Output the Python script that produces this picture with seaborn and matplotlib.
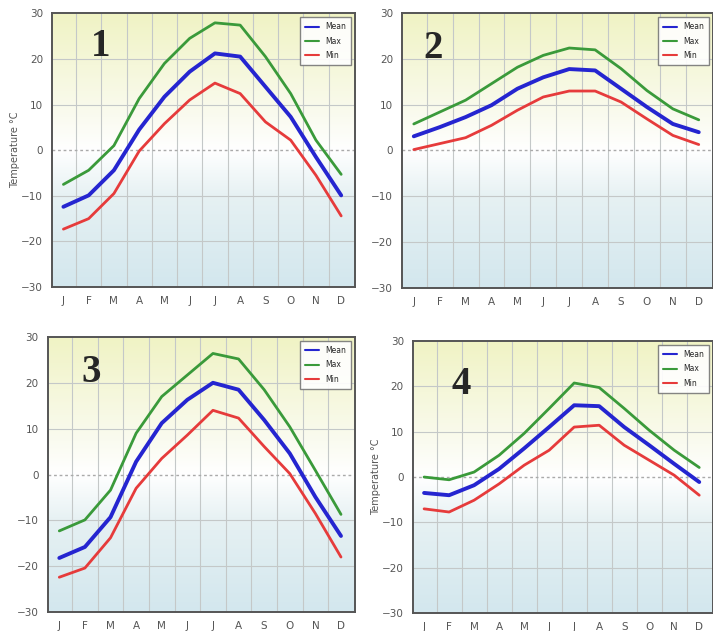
import numpy as np
import pandas as pd
import matplotlib
matplotlib.use("Agg")
import matplotlib.pyplot as plt
from matplotlib.colors import LinearSegmentedColormap
import seaborn as sns

# month labels
months = ["J", "F", "M", "A", "M", "J", "J", "A", "S", "O", "N", "D"]

# panel 1
mean_1 = [-12.4, -9.9, -4.4, 4.5, 11.7, 17.2, 21.2, 20.5, 13.9, 7.3, -1.5, -9.9]
max_1 = [-7.5, -4.4, 1.0, 11.3, 19.0, 24.5, 27.9, 27.4, 20.5, 12.4, 2.2, -5.3]
min_1 = [-17.3, -15.0, -9.5, -0.2, 5.8, 11.0, 14.7, 12.4, 6.2, 2.2, -5.5, -14.4]

# panel 2
mean_2 = [3.1, 5.1, 7.3, 9.9, 13.5, 16.0, 17.8, 17.5, 13.5, 9.5, 5.8, 4.0]
max_2 = [5.8, 8.4, 11.0, 14.6, 18.2, 20.8, 22.4, 22.0, 17.9, 13.1, 9.1, 6.7]
min_2 = [0.2, 1.5, 2.8, 5.5, 8.8, 11.7, 13.0, 13.0, 10.6, 6.9, 3.3, 1.3]

# panel 3
mean_3 = [-18.2, -15.8, -9.3, 2.8, 11.2, 16.3, 20.0, 18.5, 11.9, 4.6, -4.9, -13.4]
max_3 = [-12.3, -9.9, -3.4, 9.0, 17.0, 21.7, 26.4, 25.2, 18.5, 10.4, 0.9, -8.7]
min_3 = [-22.4, -20.4, -13.8, -3.0, 3.5, 8.6, 14.0, 12.3, 6.1, 0.2, -8.5, -18.0]

# panel 4
mean_4 = [-3.5, -4.0, -1.8, 1.8, 6.3, 11.0, 15.8, 15.6, 11.0, 7.0, 2.9, -1.1]
max_4 = [0.0, -0.6, 1.1, 4.8, 9.6, 15.1, 20.7, 19.7, 15.1, 10.3, 5.9, 2.1]
min_4 = [-7.0, -7.7, -5.1, -1.5, 2.6, 5.9, 11.0, 11.4, 7.0, 3.7, 0.4, -4.0]

panels = [
    ("1", mean_1, max_1, min_1, [0.073, 0.545, 0.425, 0.434], True),
    ("2", mean_2, max_2, min_2, [0.564, 0.544, 0.436, 0.435], False),
    ("3", mean_3, max_3, min_3, [0.067, 0.030, 0.431, 0.436], False),
    ("4", mean_4, max_4, min_4, [0.579, 0.028, 0.421, 0.432], True),
]
label_pos = {"1": (0.16, 0.88), "2": (0.1, 0.87), "3": (0.14, 0.87), "4": (0.16, 0.84)}

palette = {"Mean": "#2525d0", "Max": "#3a9a3a", "Min": "#e63b3b"}
widths = {"Mean": 2.8, "Max": 2.0, "Min": 2.0}

bg = LinearSegmentedColormap.from_list(
    "bg", [(0.0, "#d3e7ee"), (0.33, "#e6f1f3"), (0.5, "#ffffff"),
           (0.62, "#fafbf0"), (1.0, "#f0f3c4")])

sns.set_style("white")
fig = plt.figure(figsize=(7.13, 6.31), dpi=100)

for name, mean, mx, mn, rect, ylab in panels:
    ax = fig.add_axes(rect)
    df = pd.DataFrame({
        "month": list(range(12)) * 3,
        "temp": mean + mx + mn,
        "series": ["Mean"] * 12 + ["Max"] * 12 + ["Min"] * 12,
    })
    ax.imshow(np.linspace(0, 1, 256).reshape(-1, 1), cmap=bg, origin="lower",
              extent=[-0.45, 11.55, -30, 30], aspect="auto", zorder=0)
    sns.lineplot(data=df, x="month", y="temp", hue="series", palette=palette,
                 ax=ax, zorder=3)
    for line, s in zip(ax.get_lines(), ["Mean", "Max", "Min"]):
        line.set_linewidth(widths[s])
        line.set_solid_joinstyle("round")
    ax.set_xlim(-0.45, 11.55)
    ax.set_ylim(-30, 30)
    ax.set_xticks(range(12))
    ax.set_xticklabels(months)
    ax.set_xticks(np.arange(0.5, 11.5, 1), minor=True)
    ax.set_yticks(range(-30, 31, 10))
    ax.set_yticks(range(-30, 31, 2), minor=True)
    ax.grid(False)
    ax.grid(which="minor", axis="x", color="#c4c8c8", lw=0.8, zorder=1)
    for yv in [-20, -10, 10, 20]:
        ax.axhline(yv, color="#c4c8c8", lw=0.8, zorder=1)
    ax.axhline(0, color="#aaaaaa", lw=1.0, ls=(0, (2, 2)), zorder=1)
    ax.tick_params(axis="both", which="major", labelsize=7.5, labelcolor="#555555",
                   length=3, color="#555555")
    ax.tick_params(axis="y", which="minor", length=1.5, color="#555555")
    ax.tick_params(axis="x", which="minor", length=0)
    for sp in ax.spines.values():
        sp.set_color("#555555")
        sp.set_linewidth(1.4)
    ax.set_xlabel("")
    if ylab:
        ax.set_ylabel("Temperature °C", fontsize=7, color="#555555", labelpad=1)
    else:
        ax.set_ylabel("")
    ax.legend(loc="upper right", fontsize=5.5, frameon=True, fancybox=False,
              edgecolor="#777777", handlelength=1.8, borderpad=0.7,
              labelspacing=0.7, framealpha=0.9)
    lx, ly = label_pos[name]
    ax.text(lx, ly, name, transform=ax.transAxes, fontsize=28, fontweight="bold",
            family="Liberation Serif", ha="center", va="center", zorder=5)

fig.savefig("out.png", dpi=100)
